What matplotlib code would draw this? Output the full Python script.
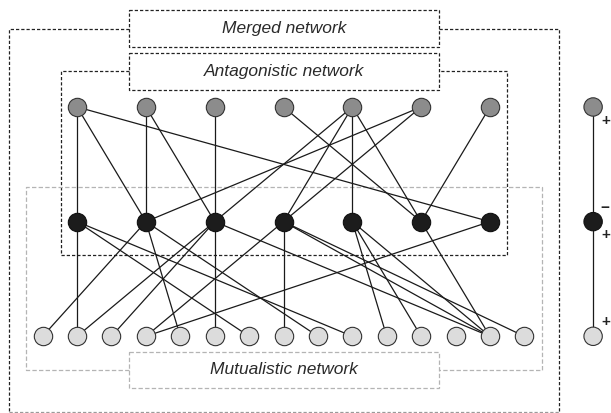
import matplotlib
matplotlib.use("Agg")
import matplotlib.pyplot as plt
from matplotlib.patches import Rectangle

# three guilds: animals that eat plants (top), plants (middle), pollinators (bottom)
top_nodes = [1, 2, 3, 4, 5, 6, 7]
mid_nodes = [1, 2, 3, 4, 5, 6, 7]
bottom_nodes = list(range(1, 16))

# antagonistic links (top node, middle node)
antagonistic_links = [
    (1, 1), (1, 2), (1, 7),
    (2, 2), (2, 3),
    (3, 3),
    (4, 6),
    (5, 3), (5, 4), (5, 5), (5, 6),
    (6, 2), (6, 4),
    (7, 6),
]

# mutualistic links (middle node, bottom node)
mutualistic_links = [
    (1, 2), (1, 7), (1, 10),
    (2, 1), (2, 5), (2, 9),
    (3, 2), (3, 3), (3, 6), (3, 14),
    (4, 4), (4, 8), (4, 14), (4, 15),
    (5, 11), (5, 12), (5, 14),
    (6, 14),
    (7, 4),
]

# small module on the right and its interaction signs
module_levels = [0, 1, 2]
module_signs = ["+", "\u2212", "+", "+"]

labels = ["Merged network", "Antagonistic network", "Mutualistic network"]

top_color = "#8c8c8c"
mid_color = "#1c1c1c"
bottom_color = "#dcdcdc"
edge_color = "#1a1a1a"


def x_top(j):
    return 2 * j


def x_bottom(i):
    return i


fig = plt.figure(figsize=(6.11, 4.13), dpi=100)

# frame axes in pixel units for the dashed boxes
frame = fig.add_axes([0, 0, 1, 1])
frame.set_xlim(0, 611)
frame.set_ylim(413, 0)
frame.axis("off")

dash = (0, (2.6, 1.6))
black = "#222222"
grey = "#b4b4b4"


def seg(xs, ys, color, ls=dash):
    frame.plot(xs, ys, color=color, lw=0.9, linestyle=ls, solid_capstyle="butt")


# merged network box
seg([129, 9, 9], [28.7, 28.7, 411.5], black)
seg([439, 559, 559], [28.7, 28.7, 411.5], black)
seg([9, 559], [411.5, 411.5], "#9a9a9a")
frame.add_patch(Rectangle((129, 10), 310, 36.7, fill=False, ec=black, lw=0.9, ls=dash))

# antagonistic box
seg([129, 60.7, 60.7, 507.4, 507.4, 439], [71.3, 71.3, 255, 255, 71.3, 71.3], black)
frame.add_patch(Rectangle((129, 53.3), 310, 36.7, fill=False, ec=black, lw=0.9, ls=dash))

# mutualistic box
seg([129, 26, 26, 541.7, 541.7, 439], [370, 370, 186.7, 186.7, 370, 370], grey, (0, (3.5, 1.8)))
frame.add_patch(Rectangle((129, 351.7), 310, 36.7, fill=False, ec=grey, lw=0.9, ls=(0, (3.5, 1.8))))

for text, y in zip(labels, [28.3, 71.7, 370]):
    frame.text(284, y, text, ha="center", va="center", fontsize=12.5,
               style="italic", family="Liberation Sans", color="#2a2a2a")

# network axes: x in bottom-node units, y in trophic levels
ax = fig.add_axes([0, 0, 1, 1])
ax.set_xlim(-0.241, 17.52)
ax.set_ylim(2.669, -0.933)
ax.axis("off")
ax.patch.set_alpha(0)

for t, m in antagonistic_links:
    ax.plot([x_top(t), x_top(m)], [0, 1], color=edge_color, lw=0.9, zorder=1)

for m, b in mutualistic_links:
    ax.plot([x_top(m), x_bottom(b)], [1, 2], color=edge_color, lw=0.9, zorder=1)

size = 175
ax.scatter([x_top(j) for j in top_nodes], [0] * len(top_nodes), s=size,
           color=top_color, edgecolor="#333333", lw=0.8, zorder=3)
ax.scatter([x_top(j) for j in mid_nodes], [1] * len(mid_nodes), s=size,
           color=mid_color, edgecolor="#111111", lw=0.8, zorder=3)
ax.scatter([x_bottom(i) for i in bottom_nodes], [2] * len(bottom_nodes), s=size,
           color=bottom_color, edgecolor="#333333", lw=0.8, zorder=3)

# module on the right
mx = 17
ax.plot([mx] * len(module_levels), module_levels, color=edge_color, lw=0.9, zorder=1)
ax.scatter([mx] * 3, module_levels, s=size,
           color=[top_color, mid_color, bottom_color],
           edgecolor=["#333333", "#111111", "#333333"], lw=0.8, zorder=3)

sign_pos = [(0, 13, 14), (1, 12, -14), (1, 13, 13), (2, 13, -14)]
for sign, (lvl, dx, dy) in zip(module_signs, sign_pos):
    ax.annotate(sign, (mx, lvl), xytext=(dx, -dy), textcoords="offset pixels",
                ha="center", va="center", fontsize=11, fontweight="bold",
                family="Liberation Sans", color="#222222")

plt.savefig("out.png", dpi=100)
plt.close()
